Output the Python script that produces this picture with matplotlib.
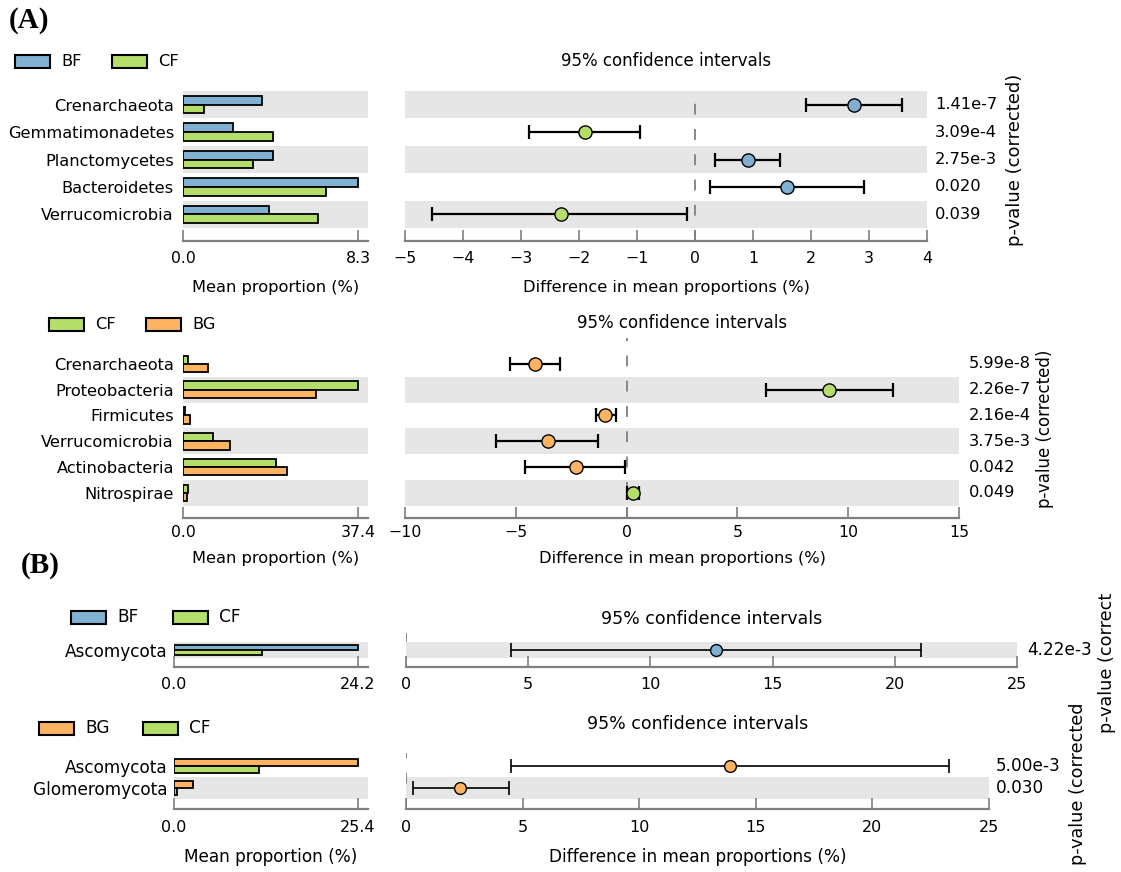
import matplotlib
matplotlib.use("Agg")
import matplotlib.pyplot as plt
from matplotlib.patches import Rectangle
from matplotlib.transforms import Bbox
import numpy as np

# ---- data -------------------------------------------------------------
group_colors = {"BF": "#80b1d3", "CF": "#b3de69", "BG": "#fdb462"}

# (A) top: BF vs CF
a1_groups = ["BF", "CF"]
a1_taxa = ["Crenarchaeota", "Gemmatimonadetes", "Planctomycetes", "Bacteroidetes", "Verrucomicrobia"]
a1_mean_1 = [3.76, 2.39, 4.25, 8.30, 4.08]
a1_mean_2 = [0.98, 4.28, 3.34, 6.80, 6.41]
a1_diff = [2.74, -1.89, 0.92, 1.59, -2.31]
a1_ci_low = [1.92, -2.86, 0.34, 0.26, -4.53]
a1_ci_high = [3.57, -0.94, 1.47, 2.91, -0.13]
a1_pvals = ["1.41e-7", "3.09e-4", "2.75e-3", "0.020", "0.039"]
a1_prop_ticks = [0.0, 8.3]
a1_diff_ticks = [-5, -4, -3, -2, -1, 0, 1, 2, 3, 4]

# (A) bottom: CF vs BG
a2_groups = ["CF", "BG"]
a2_taxa = ["Crenarchaeota", "Proteobacteria", "Firmicutes", "Verrucomicrobia", "Actinobacteria", "Nitrospirae"]
a2_mean_1 = [1.06, 37.4, 0.50, 6.32, 19.8, 1.06]
a2_mean_2 = [5.32, 28.5, 1.56, 9.94, 22.3, 0.85]
a2_diff = [-4.15, 9.15, -0.97, -3.54, -2.30, 0.29]
a2_ci_low = [-5.27, 6.29, -1.39, -5.88, -4.57, 0.02]
a2_ci_high = [-2.99, 12.03, -0.49, -1.27, -0.09, 0.54]
a2_pvals = ["5.99e-8", "2.26e-7", "2.16e-4", "3.75e-3", "0.042", "0.049"]
a2_prop_ticks = [0.0, 37.4]
a2_diff_ticks = [-10, -5, 0, 5, 10, 15]

# (B) top: BF vs CF
b1_groups = ["BF", "CF"]
b1_taxa = ["Ascomycota"]
b1_mean_1 = [24.2]
b1_mean_2 = [11.6]
b1_diff = [12.67]
b1_ci_low = [4.28]
b1_ci_high = [21.07]
b1_pvals = ["4.22e-3"]
b1_prop_ticks = [0.0, 24.2]
b1_diff_ticks = [0, 5, 10, 15, 20, 25]

# (B) bottom: BG vs CF
b2_groups = ["BG", "CF"]
b2_taxa = ["Ascomycota", "Glomeromycota"]
b2_mean_1 = [25.4, 2.58]
b2_mean_2 = [11.7, 0.40]
b2_diff = [13.88, 2.30]
b2_ci_low = [4.51, 0.28]
b2_ci_high = [23.28, 4.42]
b2_pvals = ["5.00e-3", "0.030"]
b2_prop_ticks = [0.0, 25.4]
b2_diff_ticks = [0, 5, 10, 15, 20, 25]

# ---- figure -----------------------------------------------------------
W, H = 1121, 872
fig = plt.figure(figsize=(W / 100, H / 100), dpi=100)

ov = fig.add_axes([0, 0, 1, 1], zorder=5)
ov.set_xlim(0, W)
ov.set_ylim(H, 0)
ov.axis("off")
ov.patch.set_alpha(0)

SPINE = "#7f7f7f"
BAND = "#e6e6e6"


def px_axes(x0, y0, x1, y1):
    return fig.add_axes([x0 / W, 1 - y1 / H, (x1 - x0) / W, (y1 - y0) / H])


def style_axis(ax, ticks, labels, fs, pad):
    for s in ["top", "right", "left"]:
        ax.spines[s].set_visible(False)
    ax.spines["bottom"].set_color(SPINE)
    ax.spines["bottom"].set_linewidth(1.6)
    ax.set_xticks(ticks)
    ax.set_xticklabels(labels)
    ax.tick_params(axis="x", direction="in", length=8, width=1.2, color=SPINE,
                   labelsize=fs, pad=pad)
    ax.set_facecolor("none")


def fmt_tick(v):
    return str(v).replace("-", "\u2212")


def draw_panel(p):
    n = len(p["taxa"])
    y = np.arange(n)
    ylim = (n - 0.5 + p["bot"], -0.5 - p["top"])
    h = 0.32
    c1 = group_colors[p["groups"][0]]
    c2 = group_colors[p["groups"][1]]

    # bar axes
    ax = px_axes(p["bar_x"][0], p["y0"], p["bar_x"][1], p["y1"])
    ax.set_ylim(ylim)
    ax.set_xlim(0, p["bar_xmax"])
    for i in range(n):
        if (n - 1 - i) % 2 == 0:
            ax.axhspan(i - 0.5, i + 0.5, color=BAND, lw=0, zorder=0)
    ax.barh(y - h / 2, p["m1"], height=h, color=c1, edgecolor="black", lw=1.3, zorder=2)
    ax.barh(y + h / 2, p["m2"], height=h, color=c2, edgecolor="black", lw=1.3, zorder=2)
    ax.set_yticks(y)
    ax.set_yticklabels(p["taxa"], fontsize=p["fs"])
    ax.tick_params(axis="y", length=0, pad=p["ypad"])
    style_axis(ax, p["prop_ticks"], ["%.1f" % v for v in p["prop_ticks"]], p["tfs"], p["xpad"])

    # difference axes
    ad = px_axes(p["diff_x"][0], p["y0"], p["diff_x"][1], p["y1"])
    ad.set_ylim(ylim)
    ad.set_xlim(p["diff_ticks"][0], p["diff_ticks"][-1])
    for i in range(n):
        if (n - 1 - i) % 2 == 0:
            ad.axhspan(i - 0.5, i + 0.5, color=BAND, lw=0, zorder=0)
    ad.axvline(0, color=SPINE, lw=1.3, ls=(0, (6, 8)), zorder=1)
    d = np.array(p["diff"])
    err = [d - np.array(p["lo"]), np.array(p["hi"]) - d]
    ad.errorbar(d, y, xerr=err, fmt="none", ecolor="black", elinewidth=p["elw"],
                capsize=4.8, capthick=p["elw"], zorder=3)
    for i in range(n):
        col = c1 if d[i] > 0 else c2
        ad.plot(d[i], y[i], "o", ms=p["ms"], mfc=col, mec="black", mew=1.0, zorder=4)
    ad.set_yticks([])
    style_axis(ad, p["diff_ticks"], [fmt_tick(v) for v in p["diff_ticks"]], p["tfs"], p["xpad"])
    for i in range(n):
        ad.annotate(p["pvals"][i], xy=(1, y[i]), xycoords=ad.get_yaxis_transform(),
                    xytext=(p["poff"], 0), textcoords="offset pixels",
                    ha="left", va="center", fontsize=p["fs"])

    # legend
    lx = p["leg_x"]
    ly = p["leg_y"]
    for k, g in enumerate(p["groups"]):
        bx = lx[k]
        ov.add_patch(Rectangle((bx, ly - 6.5), 35, 13, facecolor=group_colors[g],
                               edgecolor="black", lw=1.5))
        ov.text(bx + 46, ly, g, ha="left", va="center", fontsize=p["fs"])

    # title and axis labels
    dcx = (p["diff_x"][0] + p["diff_x"][1]) / 2
    bcx = (p["bar_x"][0] + p["bar_x"][1]) / 2
    ov.text(dcx, p["title_y"], "95% confidence intervals", ha="center", va="center",
            fontsize=p["fs"] + 0.3)
    if p["xlab_y"] is not None:
        ov.text(bcx, p["xlab_y"], "Mean proportion (%)", ha="center", va="center", fontsize=p["fs"])
        ov.text(dcx, p["xlab_y"], "Difference in mean proportions (%)", ha="center",
                va="center", fontsize=p["fs"])


panels = [
    dict(groups=a1_groups, taxa=a1_taxa, m1=a1_mean_1, m2=a1_mean_2, diff=a1_diff,
         lo=a1_ci_low, hi=a1_ci_high, pvals=a1_pvals, prop_ticks=a1_prop_ticks,
         diff_ticks=a1_diff_ticks, bar_x=(183, 368), diff_x=(405, 927), y0=91, y1=241,
         top=0.0, bot=0.47, bar_xmax=8.3 * 185 / 175, fs=11.7, tfs=11.3, ypad=6.5, xpad=7,
         elw=1.6, ms=9.5, poff=8, leg_x=(15, 112), leg_y=62, title_y=61, xlab_y=287),
    dict(groups=a2_groups, taxa=a2_taxa, m1=a2_mean_1, m2=a2_mean_2, diff=a2_diff,
         lo=a2_ci_low, hi=a2_ci_high, pvals=a2_pvals, prop_ticks=a2_prop_ticks,
         diff_ticks=a2_diff_ticks, bar_x=(183, 368), diff_x=(405, 959), y0=338, y1=518,
         top=0.5, bot=0.47, bar_xmax=37.4 * 185 / 175, fs=11.7, tfs=11.3, ypad=6.5, xpad=5,
         elw=1.6, ms=9.5, poff=10, leg_x=(49, 146), leg_y=324, title_y=323, xlab_y=558),
    dict(groups=b1_groups, taxa=b1_taxa, m1=b1_mean_1, m2=b1_mean_2, diff=b1_diff,
         lo=b1_ci_low, hi=b1_ci_high, pvals=b1_pvals, prop_ticks=b1_prop_ticks,
         diff_ticks=b1_diff_ticks, bar_x=(174, 368), diff_x=(406, 1017), y0=633, y1=667,
         top=0.56, bot=0.56, bar_xmax=24.2 * 194 / 184, fs=12.2, tfs=11.5, ypad=5, xpad=7,
         elw=1.2, ms=8.5, poff=10, leg_x=(71, 173), leg_y=617, title_y=619, xlab_y=None),
    dict(groups=b2_groups, taxa=b2_taxa, m1=b2_mean_1, m2=b2_mean_2, diff=b2_diff,
         lo=b2_ci_low, hi=b2_ci_high, pvals=b2_pvals, prop_ticks=b2_prop_ticks,
         diff_ticks=b2_diff_ticks, bar_x=(174, 368), diff_x=(406, 989), y0=753, y1=809,
         top=0.09, bot=0.45, bar_xmax=25.4 * 194 / 184, fs=12.2, tfs=11.5, ypad=5, xpad=8,
         elw=1.2, ms=8.5, poff=7, leg_x=(39, 143), leg_y=728, title_y=724, xlab_y=857),
]

for p in panels:
    draw_panel(p)

# rotated p-value axis titles
ov.text(1015, 160, "p-value (corrected)", rotation=90, ha="center", va="center", fontsize=13)
ov.text(1045, 429, "p-value (corrected)", rotation=90, ha="center", va="center", fontsize=12)
t1 = ov.text(1107, 733, "p-value (corrected)", rotation=90, ha="center", va="bottom", fontsize=12.7)
t1.set_clip_box(Bbox.from_extents(1090, H - 733, W, H - 593))
t1.set_clip_on(True)
t2 = ov.text(1078, 865, "p-value (corrected)", rotation=90, ha="center", va="bottom", fontsize=12.7)
t2.set_clip_box(Bbox.from_extents(1060, H - 868, 1095, H - 703))
t2.set_clip_on(True)

# panel letters
ov.text(9, 20, "(A)", ha="left", va="center", fontsize=21, fontweight="bold",
        family=["Liberation Serif", "DejaVu Serif"])
ov.text(21, 565, "(B)", ha="left", va="center", fontsize=21, fontweight="bold",
        family=["Liberation Serif", "DejaVu Serif"])

fig.savefig("out.png", dpi=100)
